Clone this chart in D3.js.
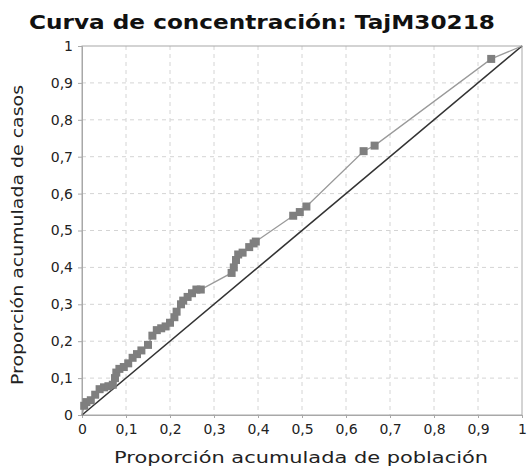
<!DOCTYPE html>
<html><head><meta charset="utf-8">
<script src="https://cdn.jsdelivr.net/npm/d3@7"></script>
<style>body{margin:0;background:#fff}svg{display:block}</style>
</head><body><svg id="c" width="527" height="469"></svg>
<script>
const titleText = "Curva de concentración: TajM30218";
const xLabel = "Proporción acumulada de población";
const yLabel = "Proporción acumulada de casos";
const tickValues = [0,0.1,0.2,0.3,0.4,0.5,0.6,0.7,0.8,0.9,1];
const popProp = [0,0.005,0.01,0.02,0.03,0.04,0.05,0.06,0.07,0.075,0.078,0.085,0.095,0.105,0.115,0.125,0.135,0.15,0.16,0.17,0.18,0.19,0.2,0.21,0.215,0.225,0.23,0.24,0.25,0.26,0.27,0.34,0.345,0.35,0.355,0.365,0.38,0.39,0.395,0.48,0.495,0.51,0.64,0.665,0.93,1];
const caseProp = [0,0.025,0.035,0.04,0.055,0.07,0.075,0.078,0.082,0.10,0.115,0.125,0.13,0.14,0.155,0.165,0.175,0.19,0.215,0.23,0.235,0.24,0.25,0.265,0.28,0.30,0.31,0.32,0.33,0.34,0.34,0.385,0.40,0.42,0.435,0.44,0.455,0.465,0.47,0.54,0.55,0.565,0.715,0.73,0.965,1];

const svg = d3.select("#c");
const L=82,R=522,T=46,B=415;
const x = d3.scaleLinear().domain([0,1]).range([L,R]);
const y = d3.scaleLinear().domain([0,1]).range([B,T]);
const fmt = d => d===0?"0":d===1?"1":d3.format(".1f")(d).replace(".",",");
const font = "DejaVu Sans, Verdana, sans-serif";

const g = svg.append("g");
g.selectAll("line.vx").data(tickValues.slice(1,-1)).join("line")
 .attr("x1",d=>x(d)).attr("x2",d=>x(d)).attr("y1",T).attr("y2",B)
 .attr("stroke","#d4d4d4").attr("stroke-dasharray","4,4");
g.selectAll("line.hy").data(tickValues.slice(1,-1)).join("line")
 .attr("y1",d=>y(d)).attr("y2",d=>y(d)).attr("x1",L).attr("x2",R)
 .attr("stroke","#d4d4d4").attr("stroke-dasharray","4,4");
svg.append("rect").attr("x",L).attr("y",T).attr("width",R-L).attr("height",B-T)
 .attr("fill","none").attr("stroke","#a8a8a8").attr("stroke-width",1);

const xa = svg.append("g").attr("transform",`translate(0,${B})`)
 .call(d3.axisBottom(x).tickValues(tickValues).tickFormat(fmt).tickSize(3).tickPadding(6));
const ya = svg.append("g").attr("transform",`translate(${L},0)`)
 .call(d3.axisLeft(y).tickValues(tickValues).tickFormat(fmt).tickSize(4).tickPadding(5));
[xa,ya].forEach(a=>{
 a.select(".domain").attr("stroke","#a8a8a8");
 a.selectAll(".tick line").attr("stroke","#a8a8a8");
 a.selectAll("text").attr("font-family",font).attr("font-size",14).attr("fill","#222");
});

svg.append("line").attr("x1",x(0)).attr("y1",y(0)).attr("x2",x(1)).attr("y2",y(1))
 .attr("stroke","#333").attr("stroke-width",1.6);

const pts = popProp.map((p,i)=>[p,caseProp[i]]);
svg.append("path").datum(pts)
 .attr("d",d3.line().x(d=>x(d[0])).y(d=>y(d[1])))
 .attr("fill","none").attr("stroke","#9a9a9a").attr("stroke-width",1.3);
svg.selectAll("rect.m").data(pts.slice(1,-1)).join("rect")
 .attr("x",d=>x(d[0])-4).attr("y",d=>y(d[1])-4).attr("width",8).attr("height",8)
 .attr("fill","#7f7f7f");

svg.append("text").attr("x",262).attr("y",29).attr("text-anchor","middle")
 .attr("font-family",font).attr("font-weight","bold").attr("font-size",19)
 .attr("textLength",466).attr("lengthAdjust","spacingAndGlyphs").attr("fill","#111").text(titleText);
svg.append("text").attr("x",301).attr("y",463).attr("text-anchor","middle")
 .attr("font-family",font).attr("font-size",15).attr("fill","#222")
 .attr("textLength",374).attr("lengthAdjust","spacingAndGlyphs").text(xLabel);
svg.append("text").attr("transform","translate(23,235) rotate(-90)").attr("text-anchor","middle")
 .attr("font-family",font).attr("font-size",15).attr("fill","#222")
 .attr("textLength",300).attr("lengthAdjust","spacingAndGlyphs").text(yLabel);
</script></body></html>
